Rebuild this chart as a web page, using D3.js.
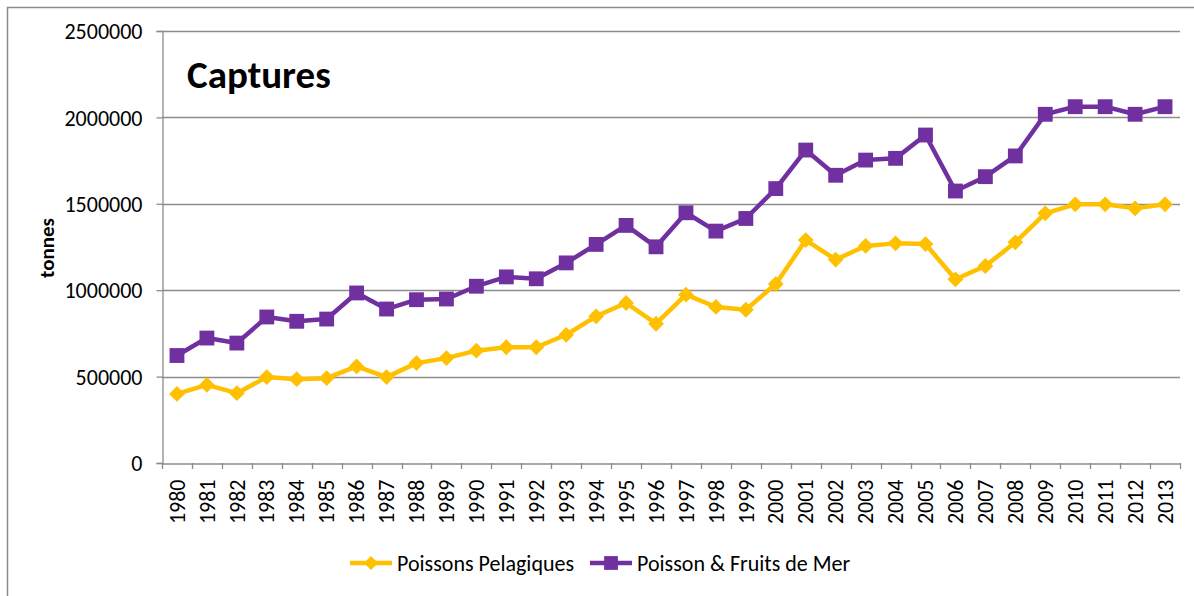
<!DOCTYPE html>
<html>
<head>
<meta charset="utf-8">
<script src="https://cdn.jsdelivr.net/npm/d3@7"></script>
<style>
  body { margin: 0; background: #fff; }
  text { font-family: Carlito, Lato, "Open Sans", sans-serif; fill: #000; }
</style>
</head>
<body>
<div id="chart"></div>
<script>
var years = ["1980","1981","1982","1983","1984","1985","1986","1987","1988","1989",
             "1990","1991","1992","1993","1994","1995","1996","1997","1998","1999",
             "2000","2001","2002","2003","2004","2005","2006","2007","2008","2009",
             "2010","2011","2012","2013"];

var pelagiques = [400000, 452000, 404000, 497000, 485000, 491000, 559000, 497000, 578000, 607000,
                  650000, 670000, 670000, 742000, 849000, 926000, 806000, 974000, 903000, 887000,
                  1036000, 1290000, 1177000, 1256000, 1271000, 1267000, 1063000, 1140000, 1277000, 1445000,
                  1497000, 1497000, 1474000, 1497000];

var fruitsDeMer = [622000, 723000, 694000, 845000, 820000, 833000, 984000, 891000, 945000, 949000,
                   1023000, 1077000, 1066000, 1158000, 1265000, 1375000, 1251000, 1448000, 1342000, 1415000,
                   1588000, 1811000, 1665000, 1753000, 1763000, 1898000, 1574000, 1657000, 1777000, 2018000,
                   2062000, 2062000, 2018000, 2062000];

var yTicks = [0, 500000, 1000000, 1500000, 2000000, 2500000];

var seriesNames = ["Poissons Pelagiques", "Poisson & Fruits de Mer"];
var colors = ["#FFC000", "#7030A0"];

var W = 1194, H = 596;
var plotLeft = 162, plotRight = 1180, plotTop = 31, plotBottom = 463;

var svg = d3.select("#chart").append("svg")
    .attr("width", W)
    .attr("height", H);

// outer chart border
svg.append("rect")
    .attr("x", 7.5).attr("y", 7.5)
    .attr("width", 1200).attr("height", 600)
    .attr("fill", "none")
    .attr("stroke", "#8c8c8c")
    .attr("stroke-width", 1.5);

var x = d3.scaleBand().domain(years).range([plotLeft, plotRight]);
var y = d3.scaleLinear().domain([0, 2500000]).range([plotBottom, plotTop]);

// gridlines
svg.append("g").selectAll("line")
    .data(yTicks.filter(d => d > 0))
    .enter().append("line")
    .attr("x1", plotLeft).attr("x2", plotRight)
    .attr("y1", d => Math.round(y(d)) + 0.5)
    .attr("y2", d => Math.round(y(d)) + 0.5)
    .attr("stroke", "#8c8c8c")
    .attr("stroke-width", 1.3);

// y axis
var yAxis = svg.append("g")
    .attr("transform", "translate(" + (plotLeft + 0.5) + ",0)")
    .call(d3.axisLeft(y).tickValues(yTicks).tickSize(6).tickPadding(14).tickFormat(d3.format("d")));
yAxis.select(".domain").attr("stroke", "#8c8c8c").attr("stroke-width", 1.3);
yAxis.selectAll(".tick line").attr("stroke", "#8c8c8c").attr("stroke-width", 1.3);
yAxis.selectAll(".tick text").style("font-size", "22px").attr("dy", "0.35em");

// x axis
var xAxis = svg.append("g")
    .attr("transform", "translate(0," + (plotBottom + 0.5) + ")")
    .call(d3.axisBottom(x).tickSize(0).tickSizeOuter(0));
xAxis.select(".domain").attr("stroke", "#8c8c8c").attr("stroke-width", 1.3);
xAxis.selectAll(".tick text")
    .style("font-size", "22px")
    .attr("text-anchor", "end")
    .attr("transform", "rotate(-90)")
    .attr("x", -16)
    .attr("y", 0)
    .attr("dy", "0.35em");

// category boundary ticks
svg.append("g").selectAll("line")
    .data(years.concat(["end"]))
    .enter().append("line")
    .attr("x1", (d, i) => Math.round(plotLeft + i * x.step()) + 0.5)
    .attr("x2", (d, i) => Math.round(plotLeft + i * x.step()) + 0.5)
    .attr("y1", plotBottom)
    .attr("y2", plotBottom + 6)
    .attr("stroke", "#8c8c8c")
    .attr("stroke-width", 1.3);

// title
svg.append("text")
    .attr("x", 187).attr("y", 88)
    .style("font-size", "39px")
    .style("font-weight", "bold")
    .text("Captures");

// y axis title
svg.append("text")
    .attr("transform", "translate(54,248) rotate(-90)")
    .attr("text-anchor", "middle")
    .style("font-size", "21px")
    .style("font-weight", "bold")
    .text("tonnes");

var cx = d => x(d) + x.bandwidth() / 2;
var line = d3.line().x((d, i) => cx(years[i])).y(d => y(d));

var squareSym = d3.symbol().type(d3.symbolSquare).size(220);
var diamondSym = d3.symbol().type(d3.symbolSquare).size(125);

[pelagiques, fruitsDeMer].forEach(function(vals, s) {
  var g = svg.append("g");
  g.append("path")
    .datum(vals)
    .attr("d", line)
    .attr("fill", "none")
    .attr("stroke", colors[s])
    .attr("stroke-width", 4.5)
    .attr("stroke-linejoin", "round");
  g.selectAll("path.mk")
    .data(vals)
    .enter().append("path")
    .attr("class", "mk")
    .attr("d", s == 0 ? diamondSym : squareSym)
    .attr("transform", (d, i) => "translate(" + cx(years[i]) + "," + y(d) + ")" + (s == 0 ? " rotate(45)" : ""))
    .attr("fill", colors[s]);
});

// legend
var legendX = [350, 590];
seriesNames.forEach(function(name, s) {
  var lg = svg.append("g").attr("transform", "translate(" + legendX[s] + ",563)");
  lg.append("line")
    .attr("x1", 0).attr("x2", 42)
    .attr("stroke", colors[s])
    .attr("stroke-width", 4.5);
  lg.append("path")
    .attr("d", s == 0 ? d3.symbol().type(d3.symbolSquare).size(100) : d3.symbol().type(d3.symbolSquare).size(190))
    .attr("transform", "translate(21,0)" + (s == 0 ? " rotate(45)" : ""))
    .attr("fill", colors[s]);
  lg.append("text")
    .attr("x", 47).attr("y", 0)
    .attr("dy", "0.35em")
    .style("font-size", "22px")
    .text(name);
});
</script>
</body>
</html>
